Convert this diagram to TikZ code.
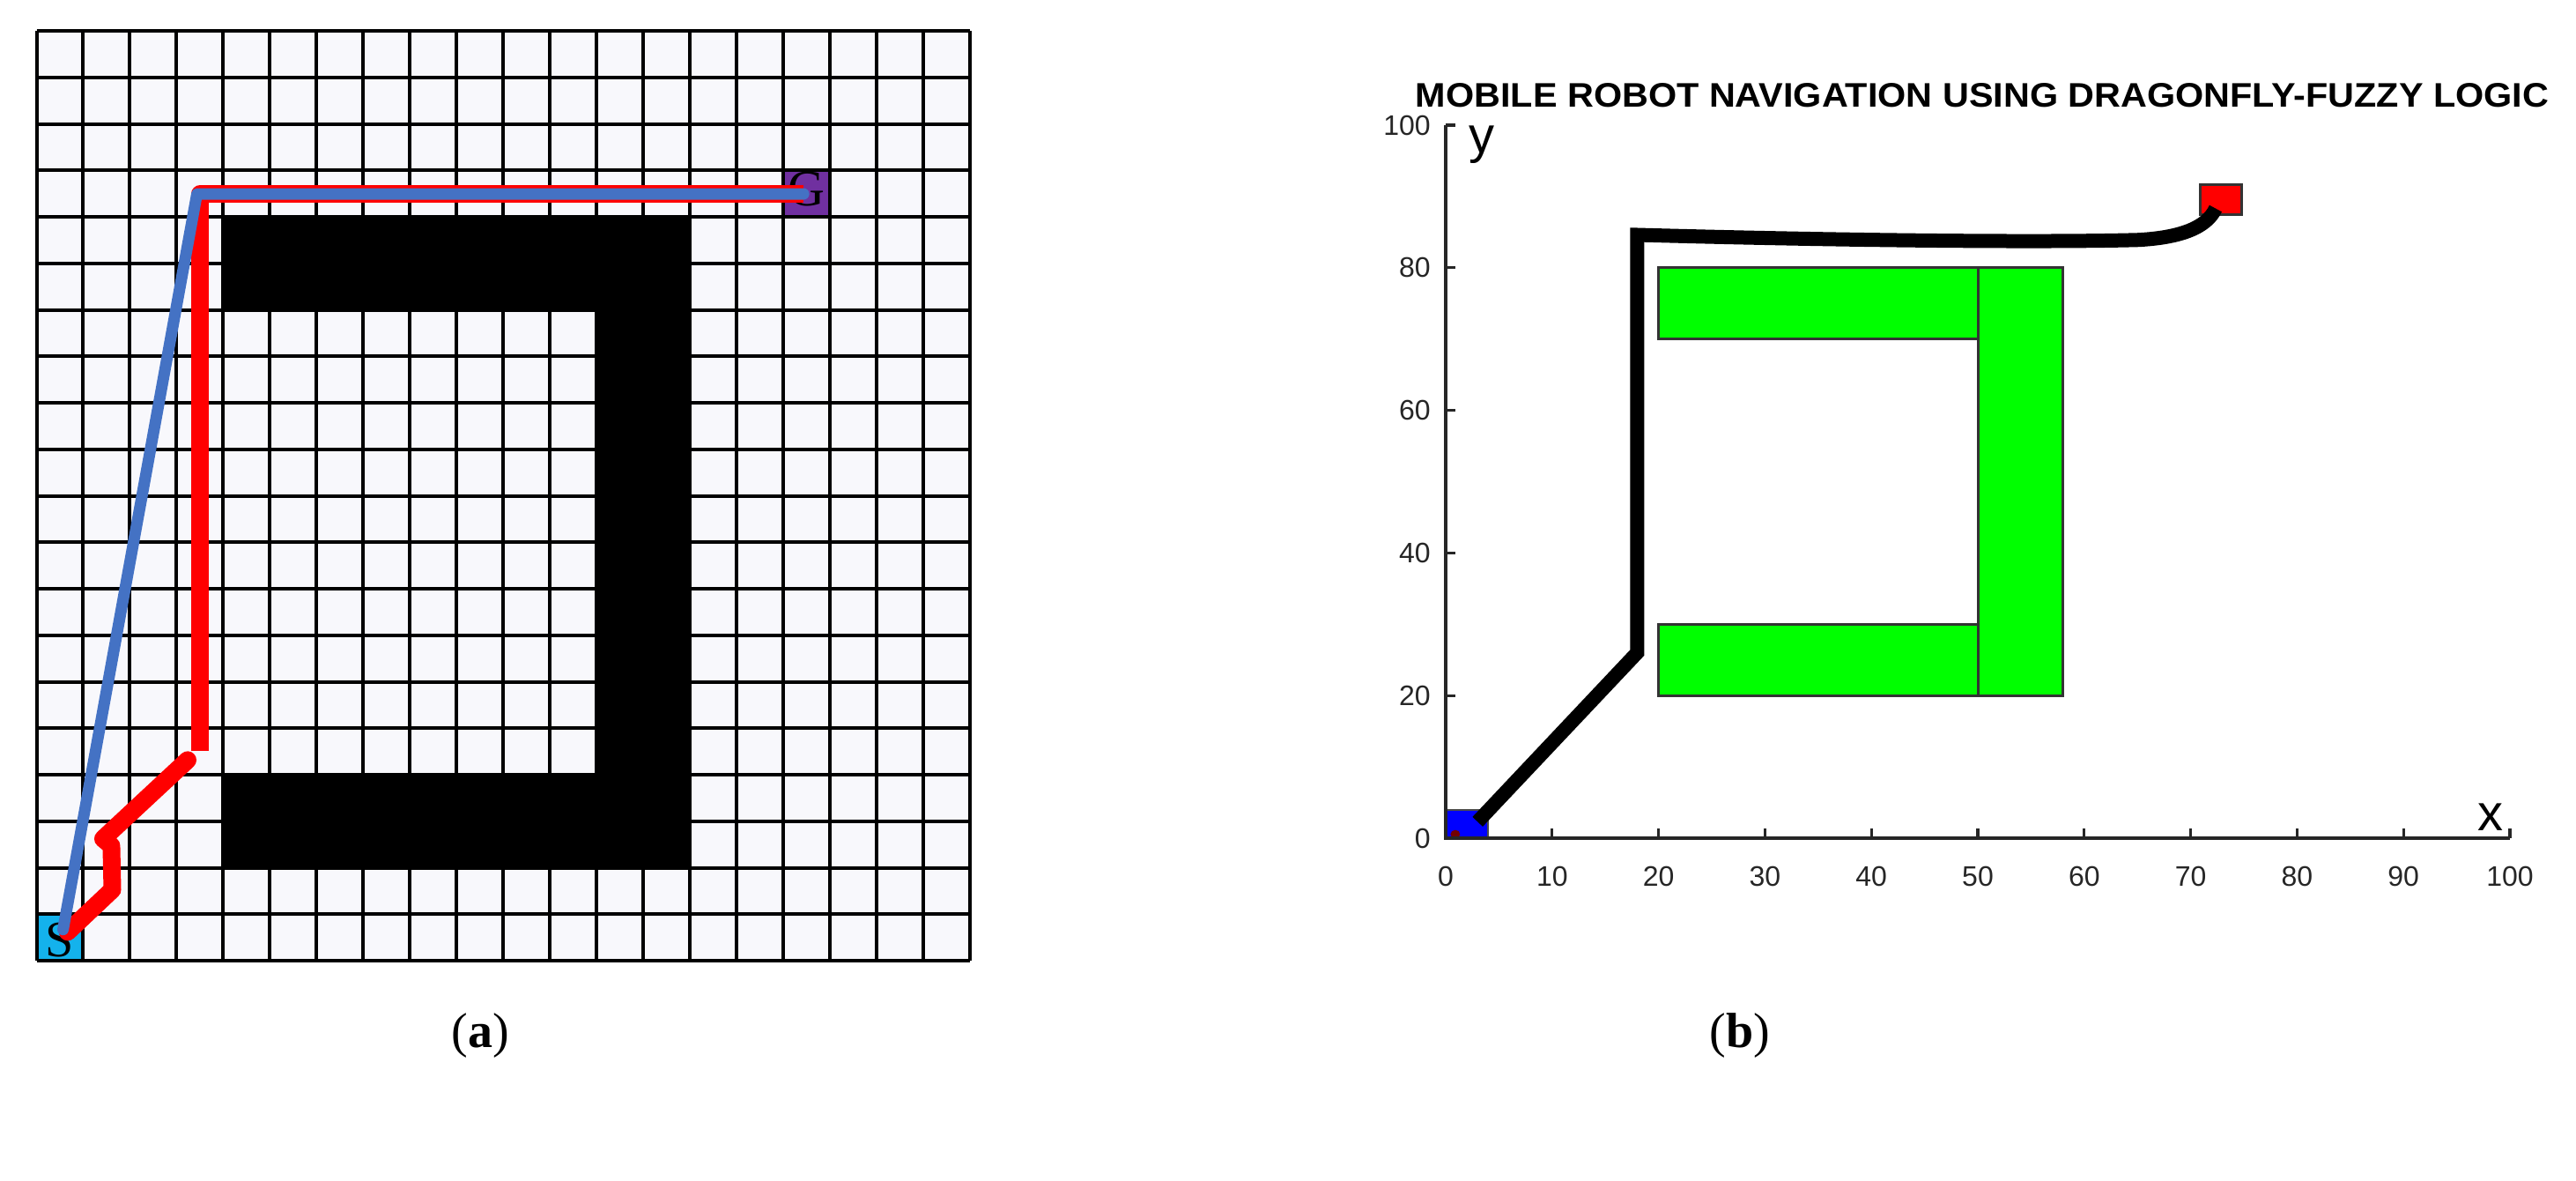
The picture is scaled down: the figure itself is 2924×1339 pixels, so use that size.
\documentclass[tikz,border=0pt]{standalone}
\usepackage{graphicx}
\usepackage{fontspec}
\setmainfont{Liberation Serif}
\newfontfamily\axfont{Liberation Sans}
\definecolor{gridbg}{RGB}{248,248,252}
\definecolor{scyan}{RGB}{20,178,236}
\definecolor{gpurple}{RGB}{112,48,160}
\definecolor{pblue}{RGB}{68,114,196}
\definecolor{pred}{RGB}{255,0,0}
\definecolor{axgray}{RGB}{38,38,38}
\definecolor{obgreen}{RGB}{0,255,0}
\definecolor{goalred}{RGB}{255,0,0}
\definecolor{startblue}{RGB}{0,0,255}
\tikzset{
  gridline/.style={line width=2pt, black, line cap=square},
  redpath/.style={line width=10pt, pred, line join=round, line cap=round},
  bluepath/.style={line width=6.5pt, pblue, line join=round, line cap=round},
  celllbl/.style={inner sep=0pt, font=\fontsize{29}{32}\selectfont},
  panellbl/.style={inner sep=0pt, font=\fontsize{28}{34}\selectfont},
  obst/.style={fill=obgreen, draw=black!80, line width=1.5pt},
  axline/.style={line width=1.6pt, axgray},
  ticklbl/.style={inner sep=0pt, text=axgray, font=\axfont\fontsize{16}{19}\selectfont},
  axname/.style={inner sep=0pt, text=black, font=\axfont\fontsize{29}{33}\selectfont},
  robotpath/.style={line width=8pt, black, line join=miter}
}
\begin{document}
\begin{tikzpicture}[x=0.5pt,y=-0.5pt]
\path[use as bounding box] (0,0) rectangle (2924,1339);
\fill[white] (0,0) rectangle (2924,1339);

% ---------------- panel (a) ----------------
\begin{scope}[shift={(41.5,35)}, xscale=52.98, yscale=52.75]
  \fill[gridbg] (0,0) rectangle (20,20);
  % C-shaped obstacle
  \fill[black] (4,4) rectangle (14,6);
  \fill[black] (12,4) rectangle (14,18);
  \fill[black] (4,16) rectangle (14,18);
  % start and goal cells
  \fill[scyan] (0,19) rectangle (1,20);
  \fill[gpurple] (16,3) rectangle (17,4);
  \foreach \i in {0,...,20} {
    \draw[gridline] (\i,0) -- (\i,20);
    \draw[gridline] (0,\i) -- (20,\i);
  }
  \node[celllbl] (S) at (0.5,19.55) {S};
  \node[celllbl] (G) at (16.5,3.4) {G};
  % red path
  \coordinate (r0) at (0.67,19.45);
  \coordinate (r1) at (1.63,18.54);
  \coordinate (r2) at (1.61,17.59);
  \coordinate (r3) at (1.43,17.44);
  \coordinate (r4) at (3.25,15.74);
  \coordinate (r5) at (3.52,15.54);
  \coordinate (r6) at (3.52,3.52);
  \coordinate (r7) at (16.5,3.52);
  \draw[redpath] (r0) -- (r1) -- (r2) -- (r3) -- (r4);
  \draw[redpath, line cap=butt] (r5) -- (r6) -- (r7);
  % blue path
  \coordinate (b0) at (0.57,19.4);
  \coordinate (b1) at (3.45,3.52);
  \coordinate (b2) at (16.5,3.52);
  \draw[bluepath] (b0) -- (b1) -- (b2);
\end{scope}
\node[panellbl] (la) at (545,1175) {(\textbf{a})};

% ---------------- panel (b) ----------------
\node[inner sep=0pt, anchor=center] (title) at (2250,108)
  {\resizebox{643pt}{13.5pt}{\axfont\bfseries MOBILE ROBOT NAVIGATION USING DRAGONFLY-FUZZY LOGIC}};
\begin{scope}[shift={(1641,951)}, xscale=12.08, yscale=-8.09]
  % obstacles
  \draw[obst] (20,70) rectangle (50,80);
  \draw[obst] (20,20) rectangle (50,30);
  \draw[obst] (50,20) rectangle (58,80);
  % start and goal
  \draw[fill=startblue, draw=black!70, line width=1pt] (0,0) rectangle (4,4);
  \fill[red!45!black] (0.9,0.55) circle [x radius=0.45, y radius=0.6];
  \draw[fill=goalred, draw=black!80, line width=1.5pt] (70.9,87.5) rectangle (74.8,91.6);
  \node[inner sep=0pt, minimum size=0pt] (startpt) at (3,2.3) {};
  \node[inner sep=0pt, minimum size=0pt] (goalpt) at (72.4,88.3) {};
  % robot path
  \coordinate (p1) at (18,26);
  \coordinate (p2) at (18,84.6);
  \draw[robotpath] (startpt.center) -- (p1) -- (p2)
     .. controls (35,83.9) and (55,83.5) .. (65,83.9)
     .. controls (69,84.2) and (71.5,85.6) .. (goalpt.center);
  % axes
  \draw[axline] (0,100) -- (0,0) -- (100,0);
  \foreach \v in {20,40,60,80,100} {
    \draw[axline] (0,\v) -- (0.95,\v);
    \node[ticklbl, anchor=east] at (-1.4,\v) {\v};
  }
  \node[ticklbl, anchor=east] (y0) at (-1.4,0) {0};
  \foreach \v in {10,20,...,100} {
    \draw[axline] (\v,0) -- (\v,1.4);
  }
  \foreach \v in {0,10,...,100} {
    \node[ticklbl] at (\v,-5.4) {\v};
  }
  \node[axname] (ylab) at (3.4,97.3) {y};
  \node[axname] (xlab) at (98.2,3.0) {x};
\end{scope}
\node[panellbl] (lb) at (1975,1175) {(\textbf{b})};
\end{tikzpicture}
\end{document}
